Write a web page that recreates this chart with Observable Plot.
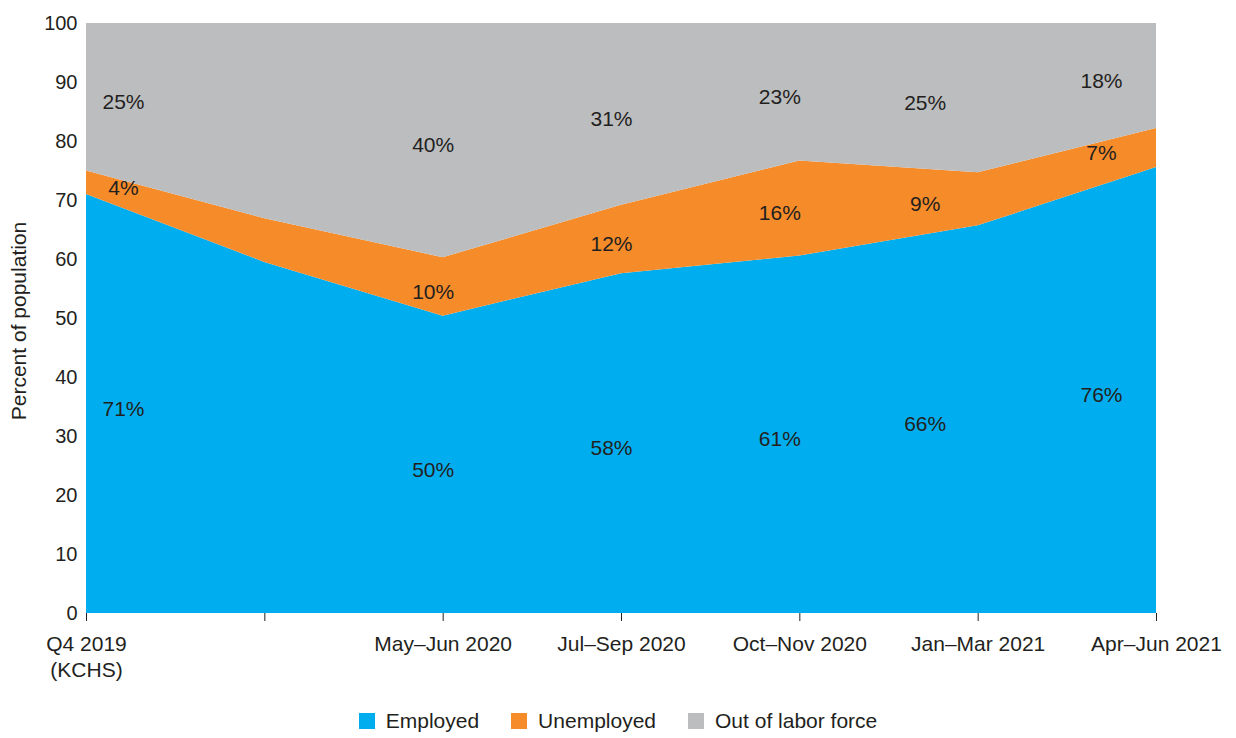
<!DOCTYPE html>
<html>
<head>
<meta charset="utf-8">
<script src="https://cdn.jsdelivr.net/npm/d3@7"></script>
<script src="https://cdn.jsdelivr.net/npm/@observablehq/plot@0.6"></script>
<style>
  body { margin: 0; background: white; font-family: "Liberation Sans", Arial, Helvetica, sans-serif; }
  #legend { margin-top: 4px; }
  #legend > div { justify-content: center; font-family: "Liberation Sans", Arial, sans-serif; font-size: 21px; color: #231f20; margin: 0; }
  #legend > div > span { margin-right: 32px; }
  #legend > div > span:last-child { margin-right: 0; }
  #legend svg { margin-right: 11px; }
</style>
</head>
<body>
<div id="chart"></div>
<div id="legend"></div>
<script>
// periodos (el segundo tick no tiene etiqueta)
const periods = ["Q4 2019\n(KCHS)", "", "May–Jun 2020", "Jul–Sep 2020", "Oct–Nov 2020", "Jan–Mar 2021", "Apr–Jun 2021"]
const statuses = ["Employed", "Unemployed", "Out of labor force"]
const colors = ["#00aeef", "#f68b2a", "#bcbdbf"]

const employed   = [71, 59.5, 50.4, 57.6, 60.6, 65.7, 75.6]
const unemployed = [4, 7.4, 9.9, 11.6, 16.1, 9, 6.6]
const outOfLabor = [25, 33.1, 39.7, 30.8, 23.3, 25.3, 17.8]

// columnas con etiquetas de porcentaje
const labeled = [0, 2, 3, 4, 5, 6]
const labelShift = [37, 0, -10, -10, -20, -53, -55]

let data = []
;[employed, unemployed, outOfLabor].forEach((serie, k) => {
  serie.forEach((v, i) => data.push({i: i, status: statuses[k], value: v}))
})

let labelMarks = labeled.map(i =>
  Plot.text(data.filter(d => d.i == i),
    Plot.stackY({
      x: "i",
      y: "value",
      z: "status",
      text: d => Math.round(d.value) + "%",
      dx: labelShift[i],
      dy: 5,
      fontSize: 21,
      fill: "#231f20"
    }))
)

let chart = Plot.plot({
  width: 1236,
  height: 700,
  marginLeft: 86,
  marginRight: 80,
  marginTop: 8,
  marginBottom: 87,
  style: {
    fontFamily: '"Liberation Sans", Arial, Helvetica, sans-serif',
    fontSize: "20px",
    color: "#231f20",
    background: "white"
  },
  x: { type: "linear", domain: [0, 6], axis: null },
  y: { domain: [0, 102.54], axis: null },
  color: { domain: statuses, range: colors },
  marks: [
    Plot.areaY(data, { x: "i", y: "value", fill: "status" }),
    ...labelMarks,
    Plot.axisY({
      ticks: d3.range(0, 101, 10),
      tickSize: 0,
      tickPadding: 9,
      fontSize: 20,
      line: true,
      label: null
    }),
    // titulo del eje y
    Plot.text(["Percent of population"], {
      frameAnchor: "left",
      rotate: -90,
      textAnchor: "middle",
      lineAnchor: "top",
      dx: -75,
      dy: 10,
      fontSize: 21,
      fill: "#231f20"
    }),
    Plot.axisX({
      ticks: d3.range(0, 7),
      tickFormat: i => periods[i],
      tickSize: 8,
      tickPadding: 11,
      fontSize: 21,
      lineHeight: 1.25,
      line: true,
      label: null
    })
  ]
})
d3.select("#chart").append(() => chart)

let legend = Plot.legend({
  color: { domain: statuses, range: colors },
  legend: "swatches",
  swatchSize: 16
})
d3.select("#legend").append(() => legend)
</script>
</body>
</html>
